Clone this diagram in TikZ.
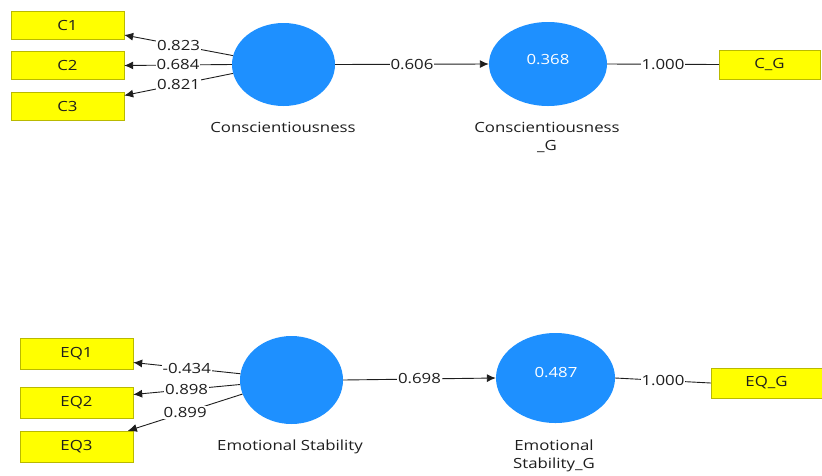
\documentclass[tikz,border=0pt]{standalone}
\usepackage{fontspec}
\setsansfont[FakeStretch=1.2]{Open Sans}
\usetikzlibrary{shapes.geometric,arrows.meta}
\definecolor{lvblue}{RGB}{30,144,255}
\definecolor{mvyellow}{RGB}{255,255,0}
\definecolor{mvborder}{RGB}{185,185,0}
\definecolor{linkgray}{RGB}{30,30,30}

\begin{document}
\begin{tikzpicture}[x=1pt,y=-1pt,
    font=\sffamily\fontsize{14}{18}\selectfont,
    every node/.style={text=linkgray},
    indbox/.style={draw=mvborder,fill=mvyellow,minimum width=113pt,minimum height=28pt,inner sep=0pt},
    latent/.style={ellipse,fill=lvblue,inner sep=0pt},
    coef/.style={fill=white,inner sep=1pt,midway},
    link/.style={draw=linkgray,line width=0.9pt},
    load/.style={link,-{Latex[length=9pt,width=8pt]}}
]

    \useasboundingbox (0,0) rectangle (822,475);

    % upper model
    \node[indbox] (C1) at (67.5,25) {C1};
    \node[indbox] (C2) at (67.5,65.5) {C2};
    \node[indbox] (C3) at (67.5,106.5) {C3};
    \node[latent,minimum width=103pt,minimum height=83pt] (cons) at (283.5,64.5) {};
    \node[latent,minimum width=118pt,minimum height=84pt] (consg) at (548,64) {};
    \node[text=white] (consgval) at (548,60) {0.368};
    \node[indbox,minimum width=101pt,minimum height=29pt] (CG) at (769.5,64.5) {C\_G};
    \node (consname) at (283,127) {Conscientiousness};
    \node[align=center] (consgname) at (547,137) {Conscientiousness\\\_G};

    \draw[load] (cons.170) -- node[coef] {0.823} (C1.-10);
    \draw[load] (cons.west) -- node[coef] {0.684} (C2.east);
    \draw[load] (cons.190) -- node[coef] {0.821} (C3.11);
    \draw[load] (cons.east) -- node[coef] {0.606} (consg.west);
    \draw[link] (consg.east) -- node[coef] {1.000} (CG.west);

    % lower model
    \node[indbox,minimum height=31pt] (EQ1) at (76.5,353.5) {EQ1};
    \node[indbox,minimum height=31pt] (EQ2) at (76.5,402.5) {EQ2};
    \node[indbox,minimum height=31pt] (EQ3) at (76.5,446.5) {EQ3};
    \node[latent,minimum width=103pt,minimum height=88pt] (emst) at (291.5,380) {};
    \node[latent,minimum width=119pt,minimum height=90pt] (emstg) at (555.5,378) {};
    \node[text=white] (emstgval) at (556,373) {0.487};
    \node[indbox,minimum width=111pt,minimum height=30pt] (EQG) at (766.5,383) {EQ\_G};
    \node (emstname) at (290,447) {Emotional Stability};
    \node[align=center] (emstgname) at (554,456) {Emotional\\Stability\_G};

    \draw[load] (emst.173) -- node[coef] {-0.434} (EQ1.-9);
    \draw[load] (emst.185) -- node[coef] {0.898} (EQ2.8);
    \draw[load] (emst.196) -- node[coef] {0.899} (EQ3.17);
    \draw[load] (emst.east) -- node[coef] {0.698} (emstg.west);
    \draw[link] (emstg.east) -- node[coef] {1.000} (EQG.west);

\end{tikzpicture}
\end{document}
